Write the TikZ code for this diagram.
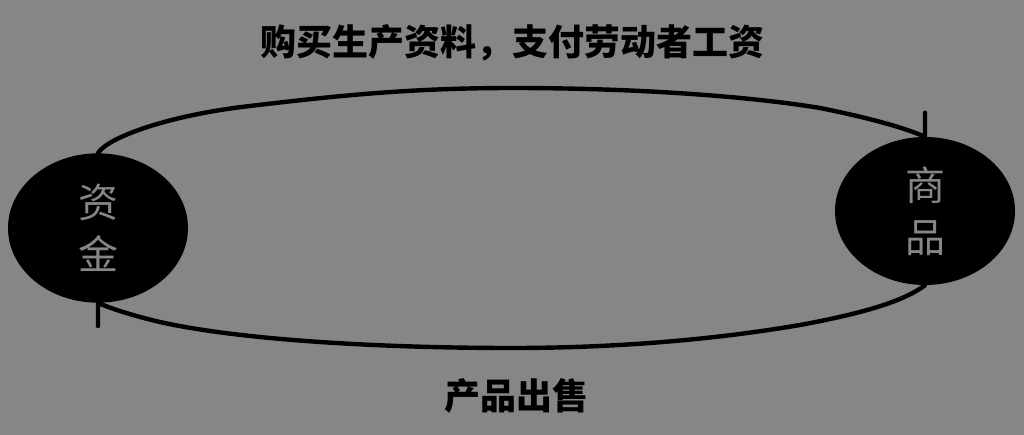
\documentclass[tikz,border=0pt]{standalone}
\usepackage{fontspec}
\newfontfamily\cjk{Noto Sans CJK SC}
\usetikzlibrary{shapes.geometric}
\definecolor{bg}{RGB}{134,134,134}
\tikzset{
  pot/.style={ellipse,fill=black,inner sep=0pt,text=bg,align=center,
    font=\cjk\fontsize{30pt}{39pt}\selectfont},
  lab/.style={font=\cjk\bfseries\fontsize{27pt}{30pt}\selectfont},
  flow/.style={line width=3.3pt,line cap=round,line join=round}
}
\begin{document}
\begin{tikzpicture}[x=0.75pt,y=-0.75pt]
\fill[bg](0,0)rectangle(1024,435);
\useasboundingbox(0,0)rectangle(1024,435);
\node[pot,minimum width=135pt,minimum height=112pt](zj)at(98,228){资\\金};
\node[pot,minimum width=135pt,minimum height=111pt](sp)at(925,211){商\\品};
\node[lab](buy)at(512,43){购买生产资料，支付劳动者工资};
\node[lab](sell)at(516,396){产品出售};
% top: money -> goods
\draw[flow](zj.north).. controls (108,137) and (170,115) ..(250,106)
  .. controls (350,94) and (420,88) ..(512,88)
  .. controls (650,88) and (760,98) ..(820,108)
  .. controls (870,118) and (905,128) ..(sp.north)-- ++(0,-24);
% bottom: goods -> money
\draw[flow](sp.south).. controls (905,300) and (870,312) ..(800,325)
  .. controls (700,342) and (600,348) ..(512,348)
  .. controls (380,348) and (240,340) ..(160,322)
  .. controls (130,315) and (110,308) ..(zj.south)-- ++(0,23);
\end{tikzpicture}
\end{document}
